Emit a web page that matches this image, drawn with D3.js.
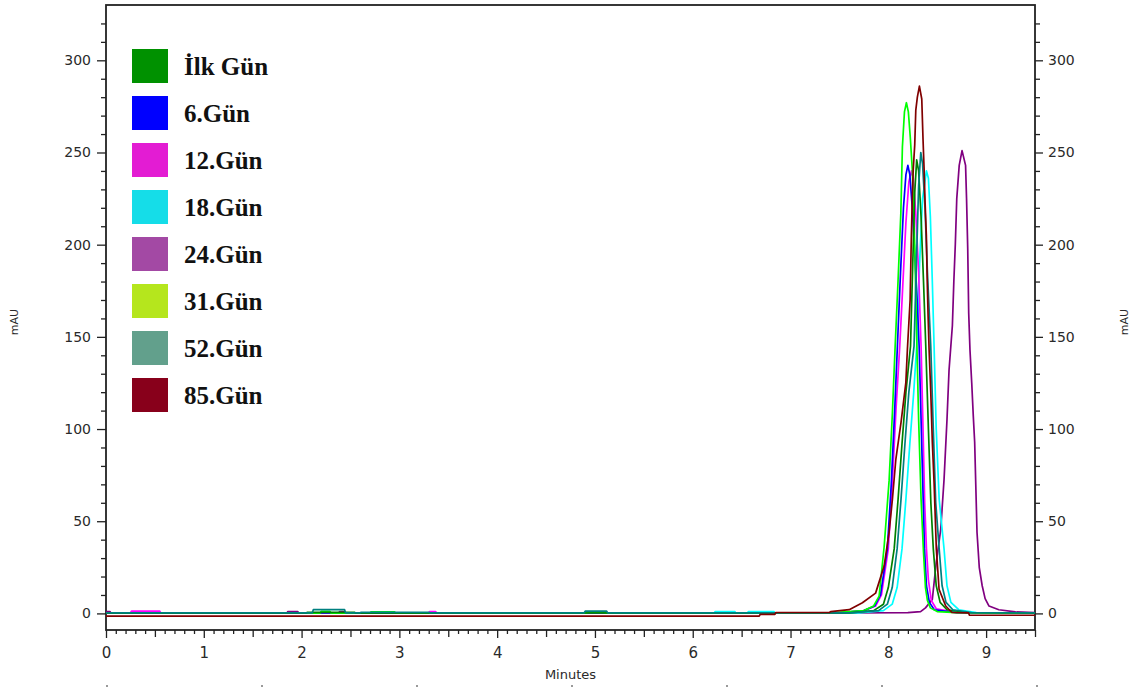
<!DOCTYPE html>
<html>
<head>
<meta charset="utf-8">
<script src="https://cdn.jsdelivr.net/npm/d3@7"></script>
<style>
  body { margin: 0; background: #fff; }
  svg { display: block; }
</style>
</head>
<body>
<div id="myDiv"></div>
<script>
//--------------------------------------------------
// Data
//--------------------------------------------------
var seriesNames = ['İlk Gün', '6.Gün', '12.Gün', '18.Gün', '24.Gün', '31.Gün', '52.Gün', '85.Gün'];
var swatchColors = ['#009100', '#0000ff', '#e31cd3', '#15dde8', '#a349a4', '#b5e61d', '#62a08c', '#88001b'];
var lineColors = ['#008000', '#0000ff', '#ff00ff', '#00ffff', '#800080', '#00ff00', '#008080', '#800000'];

var xDomain = [0, 9.5];
var yDomain = [-9, 330];
var xMajor = [0, 1, 2, 3, 4, 5, 6, 7, 8, 9];
var yMajor = [0, 50, 100, 150, 200, 250, 300];

// [minutes, mAU]
var ilkGun = [[0,0.2],[2.05,0.2],[2.06,0.6],[2.54,0.6],[2.55,0.2],[7.6,0.3],[7.85,1.5],[7.95,5],[8.0,14],
  [8.06,35],[8.10,62],[8.14,92],[8.18,120],[8.227,145],[8.25,190],[8.27,228],[8.29,246],[8.31,240],
  [8.335,215],[8.36,180],[8.383,145],[8.41,100],[8.435,60],[8.46,35],[8.49,15],[8.53,6],[8.6,2],
  [8.8,0.5],[9.5,0.3]];
var gun6 = [[0,0.2],[7.5,0.3],[7.75,1.5],[7.86,4],[7.92,10],[7.99,35],[8.03,70],[8.065,110],[8.093,145],
  [8.125,185],[8.155,220],[8.18,238],[8.20,243],[8.22,238],[8.245,220],[8.27,195],[8.295,170],
  [8.315,145],[8.335,105],[8.355,65],[8.37,35],[8.39,15],[8.42,6],[8.47,2],[8.7,0.4],[9.5,0.3]];
var gun12 = [[0,0.3],[0.25,0.3],[0.26,1.2],[0.55,1.2],[0.56,0.3],[3.3,0.3],[3.31,1],[3.37,1],[3.38,0.3],
  [7.5,0.3],[7.75,1.5],[7.87,4],[7.93,10],[8.0,35],[8.04,70],[8.08,112],[8.117,145],[8.15,180],
  [8.18,212],[8.21,234],[8.236,240],[8.255,236],[8.28,218],[8.31,185],[8.335,145],[8.355,100],
  [8.372,60],[8.39,35],[8.41,18],[8.44,7],[8.49,2.5],[8.7,0.5],[9.5,0.3]];
var gun18 = [[0,0.2],[6.22,0.2],[6.23,1],[6.43,1],[6.44,0.2],[6.56,0.2],[6.57,1],[6.83,1],[6.84,0.2],
  [7.7,0.3],[7.95,1.5],[8.04,5],[8.09,14],[8.14,35],[8.18,62],[8.22,92],[8.26,120],[8.29,145],
  [8.32,190],[8.35,225],[8.39,240],[8.41,236],[8.43,215],[8.45,180],[8.468,145],[8.49,100],
  [8.52,62],[8.57,35],[8.60,15],[8.64,6],[8.72,2],[8.9,0.5],[9.5,0.3]];
var gun24 = [[0,1],[0.04,1],[0.05,0.2],[1.85,0.2],[1.86,1],[1.96,1],[1.97,0.2],[2.38,0.2],[2.39,1],
  [2.44,1],[2.45,0.2],[7.0,0.2],[8.2,0.4],[8.33,1],[8.38,3],[8.45,7.6],[8.49,27.6],[8.536,45.6],
  [8.57,72.7],[8.60,105],[8.621,132],[8.655,156],[8.67,180],[8.685,200],[8.70,225],[8.725,243],
  [8.754,251],[8.79,243],[8.80,225],[8.812,198],[8.822,163],[8.835,143],[8.853,125],[8.869,107],
  [8.883,93],[8.907,44],[8.93,25],[8.96,15],[8.99,8],[9.03,4],[9.13,2],[9.3,0.8],[9.5,0.5]];
var gun31 = [[0,0.2],[2.19,0.2],[2.2,1.1],[2.29,1.1],[2.3,0.2],[2.7,0.2],[2.71,0.9],[2.95,0.9],[2.96,0.2],
  [4.91,0.2],[4.92,0.5],[5.1,0.5],[5.11,0.2],[7.40,0.3],[7.75,1.5],[7.85,4],[7.906,9.4],[7.957,36],
  [8.008,72],[8.042,109],[8.07,145],[8.10,181],[8.128,217],[8.144,253],[8.165,272],[8.185,277],
  [8.205,272],[8.225,258],[8.246,240],[8.27,200],[8.29,150],[8.31,105],[8.335,62],[8.36,33],
  [8.38,14],[8.40,7],[8.43,3],[8.5,1],[8.7,0.4],[9.5,0.3]];
var gun52 = [[0,0.3],[2.11,0.3],[2.12,2],[2.44,2],[2.45,0.3],[2.6,0.3],[2.61,0.6],[3.3,0.6],[3.31,0.3],
  [4.89,0.3],[4.9,1.2],[5.12,1.2],[5.13,0.3],[7.6,0.3],[7.9,1.5],[7.99,5],[8.04,14],[8.09,35],
  [8.13,62],[8.17,92],[8.21,120],[8.263,145],[8.29,195],[8.31,232],[8.332,250],[8.35,244],
  [8.375,220],[8.40,185],[8.434,145],[8.46,100],[8.485,60],[8.52,35],[8.55,15],[8.59,6],[8.66,2],
  [8.85,0.5],[9.5,0.3]];
var gun85 = [[0,-1.5],[6.68,-1.5],[6.69,-0.5],[6.84,-0.5],[6.85,0.5],[7.40,0.6],[7.41,1],[7.60,2],
  [7.735,5.8],[7.87,11],[7.957,25.7],[8.008,44],[8.042,62],[8.077,83.6],[8.13,103.6],[8.179,125],
  [8.195,143],[8.223,170],[8.235,203],[8.245,225],[8.255,241],[8.27,254],[8.281,273],[8.297,280],
  [8.318,286],[8.342,279],[8.355,257],[8.366,241],[8.376,223],[8.389,205],[8.398,180],[8.407,161],
  [8.417,143],[8.434,120],[8.45,93],[8.468,71],[8.491,35],[8.519,13],[8.587,4],[8.65,0.5],
  [8.82,0.3],[8.83,-1],[9.5,-1]];

var seriesData = [ilkGun, gun6, gun12, gun18, gun24, gun31, gun52, gun85];
// drawing order, back to front
var drawOrder = [4, 3, 2, 1, 5, 0, 6, 7];

//--------------------------------------------------
// Chart
//--------------------------------------------------
var W = 1139, H = 689;
var margin = {top: 5, right: 104, bottom: 59, left: 106};
var axisFont = 'DejaVu Sans, Verdana, sans-serif';
var axisColor = '#222';

var svg = d3.select('#myDiv').append('svg')
  .attr('width', W)
  .attr('height', H);

var x = d3.scaleLinear().domain(xDomain).range([margin.left, W - margin.right]);
var y = d3.scaleLinear().domain(yDomain).range([H - margin.bottom, margin.top]);

var xMinor = d3.range(0, 96).map(function (i) { return i / 10; })
  .filter(function (d) { return Math.abs(d - Math.round(d)) > 1e-6 && Math.abs(d * 2 - Math.round(d * 2)) > 1e-6; });
var xHalf = d3.range(0, 10).map(function (i) { return i + 0.5; });
var yMinor = d3.range(1, 33).map(function (i) { return i * 10; })
  .filter(function (d) { return d % 50 !== 0; });

function styleAxis(g) {
  g.select('.domain').remove();
  g.selectAll('line').attr('stroke', axisColor).attr('stroke-width', 1.3);
  g.selectAll('text').attr('fill', '#2a2a2a').attr('font-family', axisFont).attr('font-size', 14);
}

// x axis: minor, half, major
svg.append('g').attr('transform', 'translate(0,' + y.range()[0] + ')')
  .call(d3.axisBottom(x).tickValues(xMinor).tickSize(4).tickFormat(''))
  .call(styleAxis);
svg.append('g').attr('transform', 'translate(0,' + y.range()[0] + ')')
  .call(d3.axisBottom(x).tickValues(xHalf).tickSize(7).tickFormat(''))
  .call(styleAxis);
svg.append('g').attr('transform', 'translate(0,' + y.range()[0] + ')')
  .call(d3.axisBottom(x).tickValues(xMajor).tickSize(8).tickPadding(9).tickFormat(d3.format('d')))
  .call(styleAxis)
  .selectAll('text').attr('font-size', 15);

// left y axis
svg.append('g').attr('transform', 'translate(' + x.range()[0] + ',0)')
  .call(d3.axisLeft(y).tickValues(yMinor).tickSize(5).tickFormat(''))
  .call(styleAxis);
svg.append('g').attr('transform', 'translate(' + x.range()[0] + ',0)')
  .call(d3.axisLeft(y).tickValues(yMajor).tickSize(9).tickPadding(6).tickFormat(d3.format('d')))
  .call(styleAxis);

// right y axis
svg.append('g').attr('transform', 'translate(' + x.range()[1] + ',0)')
  .call(d3.axisRight(y).tickValues(yMinor).tickSize(5).tickFormat(''))
  .call(styleAxis);
svg.append('g').attr('transform', 'translate(' + x.range()[1] + ',0)')
  .call(d3.axisRight(y).tickValues(yMajor).tickSize(8).tickPadding(5).tickFormat(d3.format('d')))
  .call(styleAxis);

// frame
svg.append('rect')
  .attr('x', x.range()[0])
  .attr('y', y.range()[1])
  .attr('width', x.range()[1] - x.range()[0])
  .attr('height', y.range()[0] - y.range()[1])
  .attr('fill', 'none')
  .attr('stroke', axisColor)
  .attr('stroke-width', 1.8);

// axis titles
svg.append('text')
  .attr('x', (x.range()[0] + x.range()[1]) / 2)
  .attr('y', 679)
  .attr('text-anchor', 'middle')
  .attr('font-family', axisFont)
  .attr('font-size', 13)
  .attr('fill', '#2a2a2a')
  .text('Minutes');

[18, 1128].forEach(function (px) {
  svg.append('text')
    .attr('transform', 'translate(' + px + ',' + 322 + ') rotate(-90)')
    .attr('text-anchor', 'middle')
    .attr('font-family', axisFont)
    .attr('font-size', 11)
    .attr('fill', '#2a2a2a')
    .text('mAU');
});

// faint ruler dots under the chart
svg.append('g').selectAll('rect')
  .data(d3.range(7))
  .enter().append('rect')
  .attr('x', function (i) { return 106 + i * 155; })
  .attr('y', 685)
  .attr('width', 2)
  .attr('height', 2)
  .attr('fill', '#9a9a9a');

// traces
var line = d3.line()
  .x(function (d) { return x(d[0]); })
  .y(function (d) { return y(d[1]); });

var plot = svg.append('g');
drawOrder.forEach(function (i) {
  plot.append('path')
    .datum(seriesData[i])
    .attr('fill', 'none')
    .attr('stroke', lineColors[i])
    .attr('stroke-width', 1.7)
    .attr('stroke-linejoin', 'round')
    .attr('d', line);
});

// legend
var legend = svg.append('g').attr('class', 'legend');
seriesNames.forEach(function (name, i) {
  var top = 49 + i * 47;
  legend.append('rect')
    .attr('x', 132)
    .attr('y', top)
    .attr('width', 36)
    .attr('height', 34)
    .attr('fill', swatchColors[i]);
  legend.append('text')
    .attr('x', 184)
    .attr('y', top + 26)
    .attr('font-family', 'Liberation Serif, Times New Roman, serif')
    .attr('font-weight', 'bold')
    .attr('font-size', 25)
    .attr('fill', '#111')
    .text(name);
});
</script>
</body>
</html>
